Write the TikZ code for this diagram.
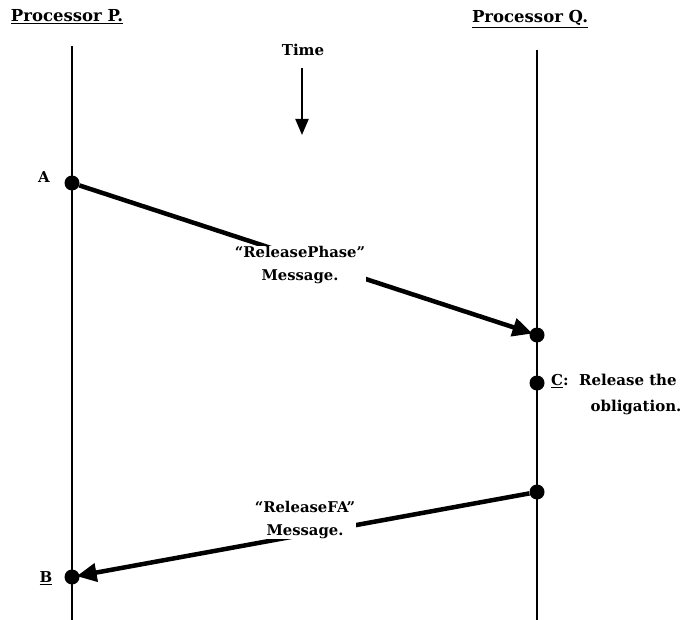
\documentclass[tikz,border=0pt]{standalone}
\usepackage{fontspec}
\setmainfont{DejaVu Serif}
\usetikzlibrary{arrows.meta}
\begin{document}
\begin{tikzpicture}[x=1pt,y=-1pt,
  lbl/.style={font=\bfseries\fontsize{15}{17}\selectfont, inner sep=1pt},
  head/.style={font=\bfseries\fontsize{16.5}{18}\selectfont, inner sep=1pt},
  msg/.style={font=\bfseries\fontsize{14.8}{23}\selectfont, align=center, fill=white, inner sep=0.5pt},
  timeline/.style={line width=1.4pt},
  event/.style={circle, fill=black, inner sep=0pt, minimum size=15pt},
  message/.style={line width=4.5pt, -{Triangle[length=20pt,width=18pt]}, shorten >=-3pt},
  ]
  \useasboundingbox (0,0) rectangle (685,620);

  % processor headings
  \node[head] (hp) at (67,17) {\underline{Processor P.}};
  \node[head] (hq) at (530,19) {\underline{Processor Q.}};

  % timelines
  \coordinate (ptop) at (72,46);
  \coordinate (pbot) at (72,620);
  \coordinate (qtop) at (537,50);
  \coordinate (qbot) at (537,620);
  \draw[timeline] (ptop) -- (pbot);
  \draw[timeline] (qtop) -- (qbot);

  % time direction
  \node[lbl] (time) at (303,50) {Time};
  \coordinate (t0) at (302,68);
  \coordinate (t1) at (302,135);
  \draw[line width=2.2pt, -{Triangle[length=16pt,width=13pt]}] (t0) -- (t1);

  % events
  \node[event] (a) at (72,183) {};
  \node[event] (q1) at (537,335) {};
  \node[event] (c) at (537,383) {};
  \node[event] (q2) at (537,492) {};
  \node[event] (b) at (72,577) {};

  \node[lbl] (alabel) at (44,177) {A};
  \node[lbl] (blabel) at (46,578) {\underline{B}};
  \node[lbl, anchor=west] (clabel) at (550,381) {\underline{C}:\ \ Release the};
  \node[lbl] (clabel2) at (636,407) {obligation.};

  % messages
  \draw[message] (a) -- (q1);
  \node[msg] (m1) at (300,265) {``ReleasePhase''\\Message.};
  \draw[message] (q2) -- (b);
  \node[msg] (m2) at (305,520) {``ReleaseFA''\\Message.};
\end{tikzpicture}
\end{document}
